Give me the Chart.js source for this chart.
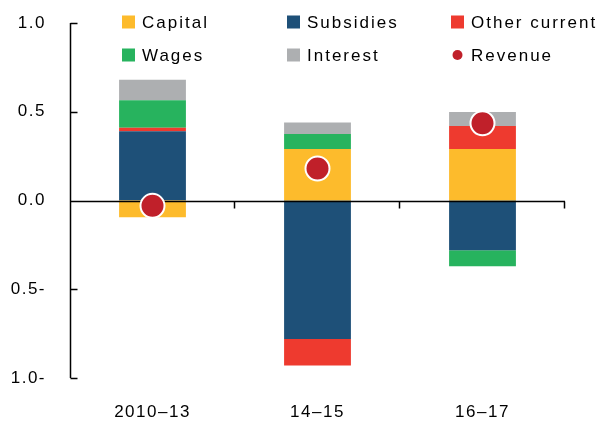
<!DOCTYPE html>
<html>
<head>
<meta charset="utf-8">
<script src="https://cdn.jsdelivr.net/npm/chart.js@4.4.1/dist/chart.umd.min.js"></script>
<style>
  html, body { margin: 0; padding: 0; background: #fff; }
  #wrap { width: 606px; height: 421px; }
</style>
</head>
<body>
<div id="wrap"><canvas id="chart"></canvas></div>
<script>
const periods = ["2010–13", "14–15", "16–17"]
const capital = [-0.095, 0.29, 0.29]
const subsidies = [0.39, -0.78, -0.28]
const otherCurrent = [0.02, -0.15, 0.13]
const wages = [0.155, 0.085, -0.09]
const interest = [0.115, 0.065, 0.078]
const revenue = [-0.03, 0.18, 0.435]
const yTicks = [1, 0.5, 0, -0.5, -1]

const FONT = "'Liberation Sans', Arial, sans-serif"

// labels like "0.5-" for negatives, as in the original
function tickText(v) {
    const s = Math.abs(v).toFixed(1)
    return v < 0 ? s + "-" : s
}

const spacing = {
    id: "spacing",
    beforeLayout(chart) { chart.ctx.letterSpacing = "1.5px" },
    beforeDraw(chart) { chart.ctx.letterSpacing = "1.5px" }
}

// axis lines with inward ticks, drawn just before the revenue dots
const axes = {
    id: "axes",
    beforeDatasetDraw(chart, args) {
        if (args.meta.type !== "line") return
        const ctx = chart.ctx
        const x = chart.scales.x
        const y = chart.scales.y
        const area = chart.chartArea
        const left = Math.round(area.left) + 0.5
        const zero = Math.round(y.getPixelForValue(0)) + 0.5
        ctx.save()
        ctx.strokeStyle = "#000"
        ctx.lineWidth = 1.5
        ctx.beginPath()
        ctx.moveTo(left, y.getPixelForValue(1))
        ctx.lineTo(left, y.getPixelForValue(-1))
        yTicks.forEach(v => {
            const p = Math.round(y.getPixelForValue(v)) + 0.5
            ctx.moveTo(left, p)
            ctx.lineTo(left + 7, p)
        })
        ctx.moveTo(left, zero)
        ctx.lineTo(area.right, zero)
        for (let i = 0; i < periods.length; i++) {
            const next = i < periods.length - 1 ? x.getPixelForTick(i + 1) : null
            const b = next === null ? area.right : (x.getPixelForTick(i) + next) / 2
            const bx = Math.round(b) - 0.5
            ctx.moveTo(bx, zero)
            ctx.lineTo(bx, zero + 7)
        }
        ctx.stroke()
        ctx.restore()
    }
}

const legend = {
    id: "gridLegend",
    afterDraw(chart) {
        const ctx = chart.ctx
        const cols = [122, 287, 451]
        const rows = [22, 55]
        ctx.save()
        ctx.letterSpacing = "2px"
        ctx.font = "17px " + FONT
        ctx.textBaseline = "middle"
        chart.data.datasets.forEach((ds, i) => {
            const cx = cols[i % 3]
            const cy = rows[Math.floor(i / 3)]
            ctx.fillStyle = ds.backgroundColor
            if (ds.type === "line") {
                ctx.beginPath()
                ctx.arc(cx + 6.5, cy, 5, 0, Math.PI * 2)
                ctx.fill()
            } else {
                ctx.fillRect(cx, cy - 6.5, 13, 13)
            }
            ctx.fillStyle = "#000"
            ctx.fillText(ds.label, cx + 20, cy + 1)
        })
        ctx.restore()
    }
}

function bar(label, data, color) {
    return { label, data, backgroundColor: color, borderWidth: 0, order: 1,
        barPercentage: 0.405, categoryPercentage: 1 }
}

new Chart(document.querySelector("#chart"), {
    type: "bar",
    data: {
        labels: periods,
        datasets: [
            bar("Capital", capital, "#fdbb2c"),
            bar("Subsidies", subsidies, "#1e5078"),
            bar("Other current", otherCurrent, "#ee3a2f"),
            bar("Wages", wages, "#27b35e"),
            bar("Interest", interest, "#adafb1"),
            {
                type: "line",
                label: "Revenue",
                data: revenue,
                showLine: false,
                order: 0,
                backgroundColor: "#c0202a",
                borderColor: "#ffffff",
                pointRadius: 12,
                pointHoverRadius: 12,
                pointBorderWidth: 2
            }
        ]
    },
    options: {
        responsive: true,
        maintainAspectRatio: false,
        animation: false,
        layout: { padding: { top: 23, right: 41, left: 0, bottom: 0 } },
        plugins: { legend: { display: false }, tooltip: { enabled: false } },
        scales: {
            x: {
                stacked: true,
                grid: { display: false, drawTicks: false },
                border: { display: false },
                ticks: { color: "#000", font: { family: FONT, size: 17 }, padding: 24, maxRotation: 0 },
                afterFit(scale) { scale.height = 43 }
            },
            y: {
                stacked: true,
                min: -1,
                max: 1,
                grid: { display: false, drawTicks: false },
                border: { display: false },
                ticks: {
                    stepSize: 0.5,
                    color: "#000",
                    font: { family: FONT, size: 17 },
                    padding: 24,
                    callback: v => tickText(v)
                },
                afterFit(scale) {
                    scale.width = 70
                    scale.paddingTop = 0
                    scale.paddingBottom = 0
                }
            }
        }
    },
    plugins: [spacing, axes, legend]
})
</script>
</body>
</html>
